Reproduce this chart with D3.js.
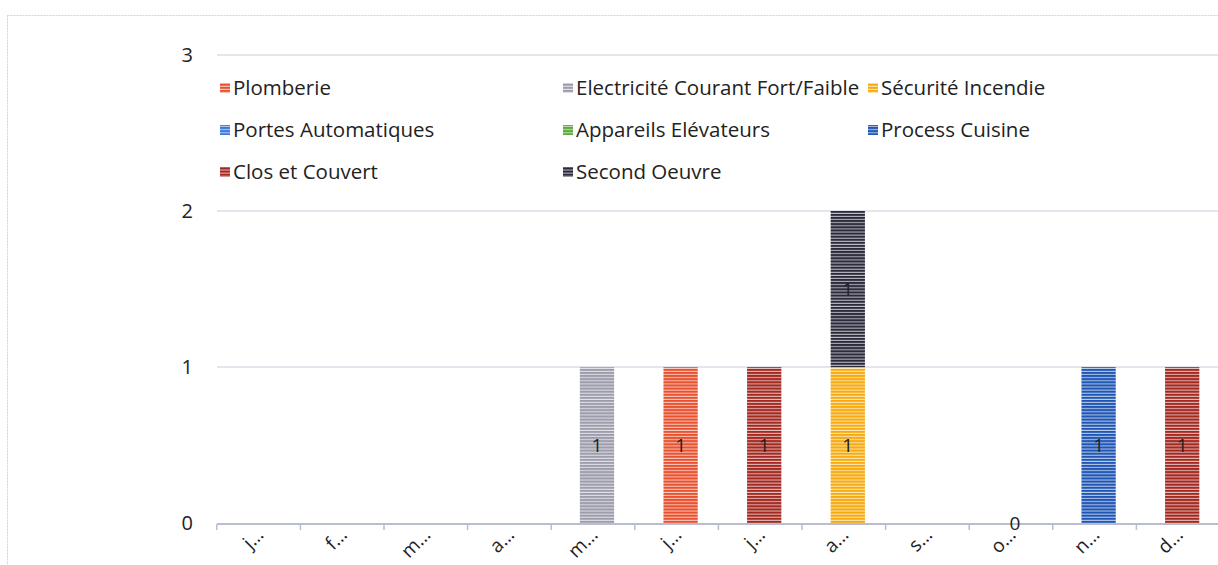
<!DOCTYPE html>
<html>
<head>
<meta charset="utf-8">
<script src="https://cdn.jsdelivr.net/npm/d3@7"></script>
<style>
  html, body { margin: 0; padding: 0; background: #fff; }
  svg { display: block; }
  text { font-family: "Open Sans", Lato, sans-serif; fill: #222; }
</style>
</head>
<body>
<div id="chart"></div>
<script>
const months = ["janvier","février","mars","avril","mai","juin","juillet","août","septembre","octobre","novembre","décembre"];
const monthLabels = ["j…","f…","m…","a…","m…","j…","j…","a…","s…","o…","n…","d…"];
const seriesNames = ["Plomberie","Electricité Courant Fort/Faible","Sécurité Incendie","Portes Automatiques","Appareils Elévateurs","Process Cuisine","Clos et Couvert","Second Oeuvre"];
const seriesColors = ["#e8512e","#9c9cac","#f6aa10","#3a78d8","#5aa83e","#1f56b4","#a3281f","#2a2a3c"];
// values per series, by month (jan..déc)
const plomberie     = [0,0,0,0,0,1,0,0,0,0,0,0];
const electricite   = [0,0,0,0,1,0,0,0,0,0,0,0];
const securite      = [0,0,0,0,0,0,0,1,0,0,0,0];
const portes        = [0,0,0,0,0,0,0,0,0,0,0,0];
const appareils     = [0,0,0,0,0,0,0,0,0,0,0,0];
const processCuis   = [0,0,0,0,0,0,0,0,0,0,1,0];
const closCouvert   = [0,0,0,0,0,0,1,0,0,0,0,1];
const secondOeuvre  = [0,0,0,0,0,0,0,1,0,0,0,0];
const seriesValues = [plomberie, electricite, securite, portes, appareils, processCuis, closCouvert, secondOeuvre];
// month that shows an explicit zero label
const zeroLabelMonths = ["octobre"];
const yTicks = [0,1,2,3];

const W = 1218, H = 565;
const svg = d3.select("#chart").append("svg").attr("width", W).attr("height", H);
const defs = svg.append("defs");

seriesColors.forEach((c, i) => {
  const p = defs.append("pattern").attr("id", "pat" + i)
    .attr("patternUnits", "userSpaceOnUse").attr("width", 6).attr("height", 3.1);
  p.append("rect").attr("width", 6).attr("height", 3.1).attr("fill", c);
  p.append("rect").attr("y", 2.1).attr("width", 6).attr("height", 1).attr("fill", "#fff").attr("opacity", 0.7);
});

// outer chart border
svg.append("rect").attr("x", 7.5).attr("y", 15.5).attr("width", 1300).attr("height", 600)
  .attr("fill", "none").attr("stroke", "#d0d0da").attr("stroke-dasharray", "2,1");

const left = 220.8, band = 83.6;
const x = d3.scaleBand().domain(months).range([left, left + band * 12]).paddingInner(0.59).paddingOuter(0.295);
const y = d3.scaleLinear().domain([0, 3]).range([523, 55]);

// gridlines
svg.append("g").selectAll("line").data(yTicks.filter(d => d > 0)).join("line")
  .attr("x1", 217).attr("x2", W).attr("y1", d => y(d)).attr("y2", d => y(d))
  .attr("stroke", "#c9ccdc").attr("stroke-width", 1);

// y labels
svg.append("g").selectAll("text").data(yTicks).join("text")
  .attr("x", 193).attr("y", d => y(d)).attr("dy", "0.35em").attr("text-anchor", "end")
  .attr("font-size", 20).text(d => d);

// stacked bars
const table = months.map((m, j) => {
  const o = { month: m };
  seriesNames.forEach((s, i) => o[s] = seriesValues[i][j]);
  return o;
});
const stack = d3.stack().keys(seriesNames)(table);
stack.forEach((layer, i) => {
  const g = svg.append("g");
  layer.forEach(d => {
    if (d[1] - d[0] <= 0) return;
    const m = d.data.month;
    g.append("rect").attr("x", x(m)).attr("width", x.bandwidth())
      .attr("y", y(d[1])).attr("height", y(d[0]) - y(d[1]))
      .attr("fill", "url(#pat" + i + ")");
    g.append("text").attr("x", x(m) + x.bandwidth() / 2).attr("y", (y(d[0]) + y(d[1])) / 2)
      .attr("dy", "0.35em").attr("text-anchor", "middle").attr("font-size", 19)
      .attr("fill", "#333").text(d[1] - d[0]);
  });
});

// x axis line & ticks
const axis = svg.append("g");
axis.append("line").attr("x1", 217).attr("x2", W).attr("y1", 524).attr("y2", 524)
  .attr("stroke", "#b9bdd2").attr("stroke-width", 2);
axis.selectAll(".tk").data(d3.range(13)).join("line").attr("class", "tk")
  .attr("x1", i => left + band * i - 4).attr("x2", i => left + band * i - 4)
  .attr("y1", 524).attr("y2", 530).attr("stroke", "#b9bdd2").attr("stroke-width", 1.5);

// zero label
svg.append("g").selectAll("text").data(zeroLabelMonths).join("text")
  .attr("x", m => x(m) + x.bandwidth() / 2).attr("y", 523).attr("dy", "0.35em")
  .attr("text-anchor", "middle").attr("font-size", 19).text("0");

// x labels rotated
svg.append("g").selectAll("text").data(months).join("text")
  .attr("transform", (m, i) => `translate(${x(m) + x.bandwidth() / 2 + 2},${536}) rotate(-45)`)
  .attr("text-anchor", "end").attr("font-size", 19).text((m, i) => monthLabels[i]);

// legend
const legX = [220, 563, 868], legY = [88, 130, 172];
const leg = svg.append("g");
seriesNames.forEach((s, i) => {
  const cx = legX[i % 3], cy = legY[Math.floor(i / 3)];
  leg.append("rect").attr("x", cx).attr("y", cy - 5).attr("width", 10).attr("height", 10)
    .attr("fill", "url(#pat" + i + ")");
  leg.append("text").attr("x", cx + 13).attr("y", cy).attr("dy", "0.35em")
    .attr("font-size", 20.5).text(s);
});
</script>
</body>
</html>
